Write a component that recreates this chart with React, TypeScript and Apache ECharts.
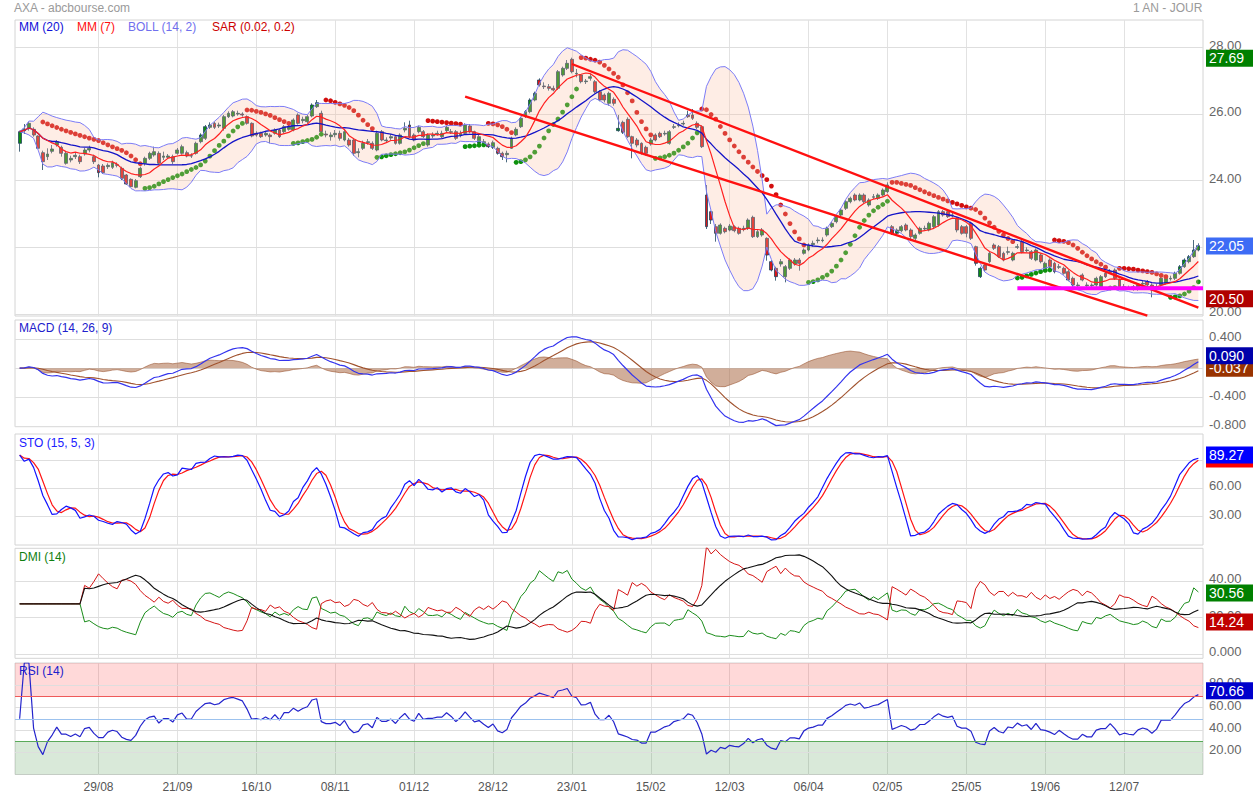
import React, { useEffect, useRef } from "react";
import * as echarts from "echarts";

const FONT = "'Liberation Sans', Arial, Helvetica, sans-serif";

// x tick labels, one every 17 trading days (first at bar 17)
const xLabels = ["29/08", "21/09", "16/10", "08/11", "01/12", "28/12", "23/01", "15/02", "12/03", "06/04", "02/05", "25/05", "19/06", "12/07"];

// daily prices (bar 0 .. bar 254)
const opens = [
  25.12, 25.5, 25.57, 25.54, 25.34, 24.84, 24.72, 24.88, 25.07, 25.0, 24.52, 24.62, 24.72, 24.72, 24.8, 24.92, 24.72, 24.47, 24.44, 24.42,
  24.4, 24.48, 24.37, 24.17, 24.04, 23.8, 24.12, 24.52, 24.67, 24.77, 24.82, 24.7, 24.7, 24.72, 24.82, 24.82, 24.84, 24.75, 24.82, 25.17,
  25.27, 25.6, 25.72, 25.64, 25.57, 25.92, 25.94, 26.0, 26.0, 25.92, 25.72, 25.42, 25.42, 25.37, 25.37, 25.42, 25.52, 25.47, 25.54, 25.52,
  25.97, 25.8, 25.77, 25.94, 26.22, 26.02, 25.4, 25.32, 25.38, 25.42, 25.22, 25.22, 25.22, 24.84, 24.97, 25.14, 25.12, 24.92, 25.47, 25.2,
  25.28, 25.32, 25.12, 25.52, 25.67, 25.37, 25.47, 25.47, 25.07, 25.34, 25.4, 25.32, 25.5, 25.45, 25.47, 25.36, 25.42, 25.64, 25.47, 25.12,
  25.14, 25.1, 25.0, 24.97, 24.82, 24.78, 24.97, 25.37, 25.62, 25.92, 26.07, 26.42, 27.02, 26.84, 26.82, 26.77, 26.77, 27.17, 27.37, 27.64,
  27.2, 27.17, 26.97, 27.07, 26.97, 26.67, 26.57, 26.32, 26.44, 25.5, 25.75, 25.84, 25.32, 25.22, 25.12, 25.0, 25.1, 25.37, 25.42, 25.4,
  25.12, 25.6, 25.65, 25.7, 25.97, 25.97, 25.72, 25.62, 23.57, 23.07, 22.62, 22.42, 22.57, 22.52, 22.62, 22.57, 22.55, 22.57, 22.9, 22.32,
  22.37, 22.27, 21.57, 21.37, 21.5, 21.12, 21.37, 21.5, 21.62, 21.82, 21.92, 22.08, 22.2, 22.2, 22.37, 22.62, 22.77, 22.97, 23.17, 23.37,
  23.57, 23.42, 23.57, 23.27, 23.5, 23.47, 23.57, 23.67, 22.62, 22.42, 22.5, 22.67, 22.52, 22.27, 22.42, 22.55, 22.52, 22.62, 22.67, 23.07,
  23.07, 22.95, 22.87, 22.62, 22.62, 22.72, 22.02, 21.12, 21.47, 21.57, 22.07, 22.02, 21.82, 21.85, 21.62, 22.0, 22.17, 21.9, 21.87, 21.62,
  21.77, 21.37, 21.62, 21.52, 21.4, 21.37, 21.27, 21.07, 20.85, 21.17, 20.85, 20.85, 20.87, 20.82, 21.22, 21.25, 21.32, 21.02, 20.8, 20.78,
  20.82, 20.74, 20.9, 20.97, 20.87, 20.8, 20.87, 20.92, 21.05, 21.07, 21.22, 21.42, 21.57, 21.72, 21.92,
];
const closes = [
  25.47, 25.55, 25.72, 25.37, 24.97, 24.57, 24.8, 24.95, 25.17, 24.82, 24.82, 24.67, 24.76, 24.57, 24.92, 24.97, 24.57, 24.24, 24.24, 24.46,
  24.54, 24.46, 24.07, 23.9, 23.82, 24.0, 24.37, 24.67, 24.82, 24.87, 24.52, 24.74, 24.74, 24.57, 24.92, 25.02, 24.74, 24.74, 25.12, 25.37,
  25.62, 25.67, 25.6, 25.67, 25.92, 26.02, 26.07, 26.02, 25.97, 25.72, 25.34, 25.37, 25.32, 25.42, 25.32, 25.52, 25.32, 25.62, 25.62, 25.82,
  25.72, 25.84, 25.92, 26.27, 26.34, 25.47, 25.37, 25.37, 25.42, 25.27, 25.47, 25.07, 24.82, 24.87, 25.12, 25.17, 24.97, 25.42, 25.22, 25.22,
  25.32, 25.12, 25.37, 25.57, 25.32, 25.22, 25.6, 25.32, 25.37, 25.37, 25.42, 25.42, 25.6, 25.47, 25.27, 25.42, 25.67, 25.47, 25.27, 25.32,
  25.17, 25.02, 25.14, 24.82, 24.72, 24.82, 25.27, 25.54, 25.87, 26.07, 26.42, 26.62, 26.87, 26.82, 26.77, 26.72, 27.27, 27.37, 27.52, 27.27,
  27.22, 26.97, 26.99, 27.12, 26.67, 26.42, 26.42, 26.62, 26.32, 25.57, 25.45, 25.32, 25.12, 25.07, 24.82, 24.82, 25.22, 25.22, 25.32, 25.42,
  25.47, 25.62, 25.67, 25.72, 25.92, 25.87, 25.6, 25.02, 22.62, 22.82, 22.42, 22.67, 22.47, 22.64, 22.5, 22.42, 22.57, 22.82, 22.32, 22.47,
  22.52, 21.77, 21.32, 21.12, 21.57, 21.42, 21.62, 21.62, 21.52, 21.92, 22.07, 22.12, 22.22, 22.22, 22.57, 22.72, 22.92, 23.12, 23.37, 23.47,
  23.42, 23.57, 23.37, 23.42, 23.52, 23.57, 23.72, 23.87, 22.42, 22.52, 22.62, 22.52, 22.32, 22.37, 22.57, 22.57, 22.72, 22.92, 23.07, 22.97,
  22.92, 22.97, 22.52, 22.42, 22.42, 22.27, 21.52, 21.37, 21.32, 21.82, 21.97, 21.72, 21.62, 21.87, 21.82, 22.02, 21.87, 21.92, 21.67, 21.92,
  21.57, 21.52, 21.42, 21.27, 21.42, 21.22, 21.02, 20.87, 20.87, 21.02, 20.87, 20.87, 21.07, 21.12, 21.12, 21.27, 21.07, 20.77, 20.82, 20.77,
  20.74, 20.87, 20.92, 20.87, 20.72, 20.82, 21.07, 21.07, 21.07, 21.22, 21.42, 21.62, 21.72, 21.92, 22.05,
];
const highs = [
  25.5, 25.7, 25.76, 25.6, 25.36, 24.9, 24.97, 25.07, 25.22, 25.05, 24.88, 24.75, 24.85, 24.78, 24.98, 25.05, 24.78, 24.5, 24.5, 24.52,
  24.6, 24.55, 24.42, 24.2, 24.07, 24.05, 24.42, 24.72, 24.87, 25.02, 24.88, 24.87, 24.8, 24.78, 24.98, 25.08, 24.9, 24.82, 25.17, 25.42,
  25.67, 25.75, 25.77, 25.74, 25.97, 26.08, 26.12, 26.1, 26.05, 25.96, 25.75, 25.48, 25.47, 25.47, 25.42, 25.57, 25.56, 25.67, 25.67, 25.87,
  26.02, 25.92, 25.97, 26.32, 26.42, 26.1, 25.5, 25.45, 25.52, 25.5, 25.55, 25.28, 25.25, 24.97, 25.2, 25.25, 25.18, 25.5, 25.52, 25.3,
  25.4, 25.37, 25.42, 25.75, 25.8, 25.42, 25.65, 25.52, 25.42, 25.45, 25.5, 25.5, 25.65, 25.55, 25.52, 25.5, 25.72, 25.7, 25.5, 25.37,
  25.25, 25.15, 25.2, 25.02, 24.87, 24.9, 25.32, 25.6, 25.92, 26.12, 26.47, 26.67, 27.07, 26.95, 26.9, 26.85, 27.32, 27.42, 27.62, 27.69,
  27.35, 27.2, 27.05, 27.2, 27.02, 26.72, 26.62, 26.67, 26.5, 25.97, 25.8, 25.9, 25.35, 25.28, 25.15, 25.05, 25.28, 25.42, 25.47, 25.5,
  25.52, 25.7, 25.75, 25.8, 26.1, 26.15, 25.78, 25.66, 23.87, 23.1, 22.7, 22.72, 22.62, 22.7, 22.66, 22.62, 22.65, 22.87, 22.95, 22.52,
  22.58, 22.3, 21.62, 21.42, 21.65, 21.47, 21.67, 21.68, 21.68, 21.97, 22.12, 22.2, 22.3, 22.3, 22.62, 22.77, 22.97, 23.17, 23.42, 23.52,
  23.62, 23.62, 23.62, 23.47, 23.6, 23.62, 23.77, 23.95, 22.67, 22.57, 22.67, 22.72, 22.57, 22.42, 22.62, 22.65, 22.77, 22.97, 23.12, 23.12,
  23.12, 23.05, 22.92, 22.67, 22.67, 22.77, 22.05, 21.42, 21.52, 21.87, 22.12, 22.07, 21.87, 22.02, 21.87, 22.1, 22.22, 22.0, 21.92, 21.97,
  21.82, 21.57, 21.67, 21.57, 21.5, 21.42, 21.32, 21.12, 20.95, 21.22, 20.95, 20.92, 21.12, 21.17, 21.27, 21.35, 21.37, 21.07, 20.9, 20.85,
  20.87, 20.92, 21.0, 21.02, 20.92, 20.9, 21.12, 21.12, 21.15, 21.27, 21.47, 21.67, 21.77, 22.22, 22.12,
];
const lows = [
  24.87, 25.4, 25.5, 25.32, 24.95, 24.32, 24.62, 24.82, 25.02, 24.72, 24.48, 24.55, 24.65, 24.5, 24.75, 24.85, 24.5, 24.1, 24.2, 24.35,
  24.35, 24.4, 24.02, 23.87, 23.8, 23.77, 24.08, 24.45, 24.62, 24.72, 24.48, 24.62, 24.65, 24.5, 24.78, 24.78, 24.7, 24.68, 24.78, 25.12,
  25.22, 25.55, 25.55, 25.58, 25.5, 25.88, 25.9, 25.95, 25.92, 25.68, 25.3, 25.32, 25.28, 25.32, 25.12, 25.38, 25.28, 25.42, 25.5, 25.48,
  25.68, 25.72, 25.72, 25.9, 26.18, 25.42, 25.3, 25.2, 25.3, 25.2, 25.18, 25.02, 24.75, 24.7, 24.92, 25.08, 24.92, 24.88, 25.18, 25.15,
  25.22, 25.08, 25.08, 25.45, 25.28, 25.18, 25.42, 25.28, 25.02, 25.28, 25.35, 25.28, 25.45, 25.4, 25.22, 25.3, 25.38, 25.42, 25.22, 25.08,
  25.1, 24.98, 24.95, 24.78, 24.62, 24.55, 24.95, 25.33, 25.58, 25.88, 26.02, 26.38, 26.82, 26.75, 26.7, 26.68, 26.72, 27.12, 27.32, 27.22,
  27.1, 26.92, 26.9, 27.0, 26.62, 26.38, 26.35, 26.25, 26.25, 25.47, 25.4, 25.28, 24.67, 25.0, 24.78, 24.75, 25.05, 25.18, 25.28, 25.35,
  25.08, 25.55, 25.6, 25.65, 25.88, 25.82, 25.55, 24.98, 22.55, 22.7, 22.17, 22.38, 22.42, 22.48, 22.45, 22.38, 22.48, 22.52, 22.28, 22.28,
  22.32, 21.6, 21.28, 21.0, 21.42, 20.95, 21.32, 21.45, 21.3, 21.78, 21.88, 22.02, 22.12, 22.15, 22.32, 22.58, 22.72, 22.92, 23.12, 23.32,
  23.38, 23.38, 23.32, 23.22, 23.45, 23.42, 23.52, 23.62, 22.37, 22.38, 22.45, 22.48, 22.2, 22.22, 22.38, 22.5, 22.48, 22.58, 22.62, 22.92,
  22.88, 22.9, 22.45, 22.38, 22.3, 22.22, 21.45, 21.08, 21.28, 21.52, 21.92, 21.68, 21.58, 21.78, 21.58, 21.95, 21.82, 21.85, 21.62, 21.58,
  21.52, 21.32, 21.38, 21.22, 21.35, 21.18, 20.98, 20.82, 20.8, 20.98, 20.8, 20.8, 20.82, 20.78, 21.08, 21.2, 21.02, 20.72, 20.75, 20.72,
  20.7, 20.7, 20.85, 20.82, 20.5, 20.75, 20.82, 20.88, 21.0, 21.02, 21.18, 21.38, 21.52, 21.68, 21.88,
];

// hand-drawn lines on the price panel: [bar, price]
const channelUpper = [[119, 27.5], [254, 20.19]];
const channelLower = [[96, 26.52], [243, 19.95]];
const supportLine = [[215, 20.77], [255, 20.77]];
const dmiStart = 27.5;

// horizontal grid lines and their right-hand labels ("" = line whose label is hidden under a tag)
const priceTicks: [number, string][] = [[20, "20.00"], [22, "22.00"], [24, "24.00"], [26, "26.00"], [28, "28.00"]];
const macdTicks: [number, string][] = [[0.4, "0.400"], [0, ""], [-0.4, "-0.400"], [-0.8, "-0.800"]];
const stoTicks: [number, string][] = [[30, "30.00"], [60, "60.00"], [90, ""]];
const dmiTicks: [number, string][] = [[0, "0.000"], [20, "20.00"], [40, "40.00"]];
const rsiTicks: [number, string][] = [[20, "20.00"], [40, "40.00"], [60, "60.00"], [80, "80.00"]];

// value tags on the right: [label, position value, colour]
const priceTags: [string, number, string][] = [["27.69", 27.67, "#008000"], ["22.05", 22.04, "#3d6cf5"], ["20.50", 20.46, "#b00000"]];
const macdTags: [string, number, string][] = [["-0.037", 0.0, "#993300"], ["0.090", 0.169, "#0000aa"]];
const stoTags: [string, number, string][] = [["", 91.0, "#ff0000"], ["89.27", 95.3, "#0000ff"]];
const dmiTags: [string, number, string][] = [["30.56", 33.4, "#008000"], ["14.24", 17.6, "#c00000"]];
const rsiTags: [string, number, string][] = [["70.66", 75.2, "#0000cc"]];

const N = closes.length;
const NCAT = N + 2;

function sma(arr: number[], n: number) {
  return arr.map((_, i) => {
    const s = Math.max(0, i - n + 1);
    let t = 0;
    for (let k = s; k <= i; k++) t += arr[k];
    return t / (i - s + 1);
  });
}
function ema(arr: number[], n: number) {
  const a = 2 / (n + 1);
  const out = [arr[0]];
  for (let i = 1; i < arr.length; i++) out.push(out[i - 1] + a * (arr[i] - out[i - 1]));
  return out;
}

const mm20 = sma(closes, 20);
const mm7 = sma(closes, 7);
const bollMid = sma(closes, 14);
const bollStd = closes.map((_, i) => {
  const s = Math.max(0, i - 13);
  let v = 0;
  for (let k = s; k <= i; k++) v += (closes[k] - bollMid[i]) ** 2;
  return Math.sqrt(v / (i - s + 1));
});
const bollUp = bollMid.map((m, i) => m + 2 * bollStd[i]);
const bollLow = bollMid.map((m, i) => m - 2 * bollStd[i]);

// parabolic SAR
const sarVal: (number | null)[] = new Array(N).fill(null);
const sarUpFlag: boolean[] = new Array(N).fill(false);
(() => {
  const start = 5;
  let isUp = false;
  let af = 0.02;
  let sar = Math.max(...highs.slice(0, start));
  let ep = lows[start - 1];
  for (let i = start; i < N; i++) {
    if (isUp) {
      if (lows[i] < sar) { isUp = false; sar = ep; ep = lows[i]; af = 0.02; }
      else if (highs[i] > ep) { ep = highs[i]; af = Math.min(af + 0.02, 0.2); }
    } else {
      if (highs[i] > sar) { isUp = true; sar = ep; ep = highs[i]; af = 0.02; }
      else if (lows[i] < ep) { ep = lows[i]; af = Math.min(af + 0.02, 0.2); }
    }
    sarVal[i] = sar;
    sarUpFlag[i] = isUp;
    let next = sar + af * (ep - sar);
    if (isUp) next = Math.min(next, lows[i], lows[i - 1]);
    else next = Math.max(next, highs[i], highs[i - 1]);
    sar = next;
  }
})();

// MACD (14, 26, 9)
const emaF = ema(closes, 14);
const emaS = ema(closes, 26);
const macd = emaF.map((f, i) => f - emaS[i]);
const signal = ema(macd, 9);
const hist = macd.map((m, i) => m - signal[i]);

// STO (15, 5, 3)
const stoRaw = closes.map((c, i) => {
  const s = Math.max(0, i - 14);
  let hh = -Infinity, ll = Infinity;
  for (let k = s; k <= i; k++) { hh = Math.max(hh, highs[k]); ll = Math.min(ll, lows[k]); }
  return hh > ll ? ((c - ll) / (hh - ll)) * 100 : 50;
});
const stoK = sma(stoRaw, 5);
const stoD = sma(stoK, 3);

// DMI (14)
const pdi: number[] = [], mdi: number[] = [], adx: number[] = [];
(() => {
  let sTR = 0, sP = 0, sM = 0, a = dmiStart;
  for (let i = 0; i < N; i++) {
    if (i > 0) {
      const tr = Math.max(highs[i] - lows[i], Math.abs(highs[i] - closes[i - 1]), Math.abs(lows[i] - closes[i - 1]));
      const up = highs[i] - highs[i - 1];
      const dn = lows[i - 1] - lows[i];
      const p = up > dn && up > 0 ? up : 0;
      const m = dn > up && dn > 0 ? dn : 0;
      if (i <= 14) { sTR += tr; sP += p; sM += m; }
      else { sTR = sTR - sTR / 14 + tr; sP = sP - sP / 14 + p; sM = sM - sM / 14 + m; }
    }
    if (i < 14) { pdi.push(dmiStart); mdi.push(dmiStart); adx.push(dmiStart); continue; }
    const pv = (100 * sP) / sTR;
    const mv = (100 * sM) / sTR;
    const dx = pv + mv > 0 ? (100 * Math.abs(pv - mv)) / (pv + mv) : 0;
    a = i === 14 ? dx : (a * 13 + dx) / 14;
    pdi.push(pv); mdi.push(mv); adx.push(a);
  }
})();

// RSI (14)
const rsi: number[] = [50];
(() => {
  let ag = 0, al = 0;
  for (let i = 1; i < N; i++) {
    const ch = closes[i] - closes[i - 1];
    const g = Math.max(ch, 0), l = Math.max(-ch, 0);
    if (i <= 14) { ag = (ag * (i - 1) + g) / i; al = (al * (i - 1) + l) / i; }
    else { ag = (ag * 13 + g) / 14; al = (al * 13 + l) / 14; }
    rsi.push(al === 0 ? 100 : 100 - 100 / (1 + ag / al));
  }
})();

const at = (arr: (number | null)[]) => arr.map((v, i) => [i + 1, v]);
const isTick = (j: number) => j >= 18 && j <= 17 * xLabels.length + 1 && (j - 1) % 17 === 0;
const cats = Array.from({ length: NCAT }, (_, j) => (isTick(j) ? xLabels[(j - 1) / 17 - 1] : ""));
const tickIv = (idx: number) => isTick(idx);

const HIDDEN = { color: "rgba(0,0,0,0)", width: 0, type: "solid" };

// grid lines + their labels (labels sit ~2.5px above their line, like the source)
function gridLines(ticks: [number, string][], pxPerUnit: number) {
  const data: any[] = [];
  ticks.forEach(([v, t]) => {
    data.push({ yAxis: v, lineStyle: { color: "#dedede", width: 1, type: "solid" }, label: { show: false } });
    if (t) {
      data.push({
        yAxis: v + 2.5 / pxPerUnit,
        lineStyle: HIDDEN,
        label: { show: true, position: "end", formatter: t, color: "#666", fontSize: 13, fontFamily: FONT, distance: 6 },
      });
    }
  });
  return { silent: true, symbol: ["none", "none"], z: 1, animation: false, data };
}
function tagLines(tags: [string, number, string][]) {
  return {
    silent: true,
    symbol: ["none", "none"],
    z: 30,
    animation: false,
    data: tags.map(([t, v, c]) => ({
      yAxis: v,
      lineStyle: HIDDEN,
      label: {
        show: true, position: "end", formatter: t === "" ? " " : t, color: "#fff", fontSize: 14, fontFamily: FONT,
        backgroundColor: c, padding: [1, 12, 1, 3], distance: 3, width: 34, height: 15, lineHeight: 15,
      },
    })),
  };
}

function buildOption() {
  const grids = [
    { left: 15, top: 20, width: 1188, height: 296 },
    { left: 15, top: 320, width: 1188, height: 106.7 },
    { left: 15, top: 434, width: 1188, height: 111 },
    { left: 15, top: 548.3, width: 1188, height: 110 },
    { left: 15, top: 663, width: 1188, height: 111.5 },
  ].map((g) => ({ ...g, show: true, borderColor: "#d4d4d4", borderWidth: 1, backgroundColor: "#fff" }));
  const yRanges = [[19.94, 28.82], [-0.8, 0.658], [0, 117.5], [-2.18, 57.77], [0, 100]];
  const ppu = yRanges.map((r, g) => grids[g].height / (r[1] - r[0]));

  const xAxis = grids.map((_, g) => ({
    type: "category",
    gridIndex: g,
    data: cats,
    boundaryGap: false,
    axisLine: { show: false },
    axisTick: { show: false },
    axisLabel: g === 4 ? { show: true, interval: tickIv, color: "#555", fontSize: 12, fontFamily: FONT, margin: 6 } : { show: false },
    splitLine: { show: true, interval: tickIv, lineStyle: { color: "#e2e2e2", width: 1 } },
  }));
  const yAxis = yRanges.map((r, g) => ({ type: "value", gridIndex: g, min: r[0], max: r[1], show: false, splitLine: { show: false } }));

  const line = (g: number, data: any[], color: string, width = 1, extra: any = {}) => ({
    type: "line", xAxisIndex: g, yAxisIndex: g, data, symbol: "none", silent: true,
    lineStyle: { color, width }, itemStyle: { color }, ...extra,
  });
  const helper = (g: number, markLine: any) => ({ type: "line", xAxisIndex: g, yAxisIndex: g, data: [], symbol: "none", silent: true, markLine });

  const sarDown = sarVal.map((v, i) => (v !== null && !sarUpFlag[i] ? [i + 1, v] : null)).filter(Boolean);
  const sarUp = sarVal.map((v, i) => (v !== null && sarUpFlag[i] ? [i + 1, v] : null)).filter(Boolean);

  const series: any[] = [
    // price panel
    helper(0, gridLines(priceTicks, ppu[0])),
    line(0, at(bollLow), "rgba(0,0,0,0)", 0, { stack: "boll", lineStyle: { opacity: 0 } }),
    line(0, at(bollUp.map((u, i) => u - bollLow[i])), "rgba(0,0,0,0)", 0, { stack: "boll", lineStyle: { opacity: 0 }, areaStyle: { color: "rgba(250,190,160,0.4)" } }),
    line(0, at(bollUp), "#7c7cf6", 1),
    line(0, at(bollLow), "#7c7cf6", 1),
    {
      type: "candlestick", xAxisIndex: 0, yAxisIndex: 0, silent: true,
      data: opens.map((o, i) => [i + 1, o, closes[i], lows[i], highs[i]]),
      encode: { x: 0, y: [1, 2, 3, 4] },
      barWidth: 3.4,
      itemStyle: { color: "#0f8a0f", color0: "#d81818", borderColor: "#1f4560", borderColor0: "#1f4560", borderWidth: 0.8 },
    },
    line(0, at(mm20), "#1414c8", 1.3),
    line(0, at(mm7), "#ff2020", 1.2),
    { type: "scatter", xAxisIndex: 0, yAxisIndex: 0, data: sarDown, symbolSize: 4.8, silent: true, itemStyle: { color: "#d20f0f", opacity: 1 } },
    { type: "scatter", xAxisIndex: 0, yAxisIndex: 0, data: sarUp, symbolSize: 4.8, silent: true, itemStyle: { color: "#0e920e", opacity: 1 } },
    line(0, channelUpper.map(([b, p]) => [b + 1, p]), "#ff1010", 2.4),
    line(0, channelLower.map(([b, p]) => [b + 1, p]), "#ff1010", 2.4),
    line(0, supportLine.map(([b, p]) => [b + 1, p]), "#ff00ff", 4),
    helper(0, tagLines(priceTags)),

    // MACD panel
    helper(1, gridLines(macdTicks, ppu[1])),
    line(1, at(hist), "#9a5532", 0.6, { areaStyle: { color: "rgba(165,95,55,0.72)" } }),
    line(1, at(signal), "#a0522d", 1.1),
    line(1, at(macd), "#3434ee", 1.2),
    helper(1, tagLines(macdTags)),

    // STO panel
    helper(2, gridLines(stoTicks, ppu[2])),
    line(2, at(stoD), "#ff1414", 1.2),
    line(2, at(stoK), "#1414ff", 1.2),
    helper(2, tagLines(stoTags)),

    // DMI panel
    helper(3, gridLines(dmiTicks, ppu[3])),
    line(3, at(pdi), "#1a8c1a", 1),
    line(3, at(mdi), "#d41414", 1),
    line(3, at(adx), "#111111", 1.1),
    helper(3, tagLines(dmiTags)),

    // RSI panel
    helper(4, gridLines(rsiTicks, ppu[4])),
    line(4, at(rsi), "#2424cc", 1.2, {
      markArea: {
        silent: true,
        data: [
          [{ yAxis: 70, itemStyle: { color: "rgba(255,0,0,0.15)" } }, { yAxis: 100 }],
          [{ yAxis: 0, itemStyle: { color: "rgba(0,110,0,0.15)" } }, { yAxis: 30 }],
        ],
      },
      markLine: {
        silent: true, symbol: ["none", "none"], label: { show: false },
        data: [
          { yAxis: 70, lineStyle: { color: "#ee5a5a", width: 1, type: "solid" } },
          { yAxis: 50, lineStyle: { color: "#9cc2ee", width: 1, type: "solid" } },
          { yAxis: 30, lineStyle: { color: "#5aaa5a", width: 1, type: "solid" } },
        ],
      },
    }),
    helper(4, tagLines(rsiTags)),
  ];

  const txt = (x: number, y: number, text: string, fill: string, extra: any = {}) => ({
    type: "text", left: x, top: y, z: 50, silent: true, style: { text, fill, fontSize: 12, fontFamily: FONT, ...extra },
  });

  return {
    animation: false,
    backgroundColor: "#fff",
    grid: grids,
    xAxis,
    yAxis,
    series,
    graphic: [
      txt(14, 2, "AXA - abcbourse.com", "#9a9a9a"),
      { type: "text", right: 50, top: 2, z: 50, silent: true, style: { text: "1 AN - JOUR", fill: "#9a9a9a", fontSize: 12, fontFamily: FONT } },
      txt(19, 21, "MM (20)", "#1010d8"),
      txt(77, 21, "MM (7)", "#ff1010"),
      txt(128, 21, "BOLL (14, 2)", "#7070ee"),
      txt(212, 21, "SAR (0.02, 0.2)", "#cc0000"),
      txt(19, 322, "MACD (14, 26, 9)", "#2020cc"),
      txt(19, 437, "STO (15, 5, 3)", "#2020ff"),
      txt(19, 551, "DMI (14)", "#108010"),
      txt(19, 665, "RSI (14)", "#2020cc"),
    ],
  };
}

export default function App() {
  const ref = useRef<HTMLDivElement>(null);
  useEffect(() => {
    if (!ref.current) return;
    const chart = echarts.init(ref.current, null, { renderer: "svg" });
    chart.setOption(buildOption() as any);
    return () => chart.dispose();
  }, []);
  return <div ref={ref} style={{ position: "fixed", left: 0, top: 0, width: 1253, height: 795, background: "#fff" }} />;
}
